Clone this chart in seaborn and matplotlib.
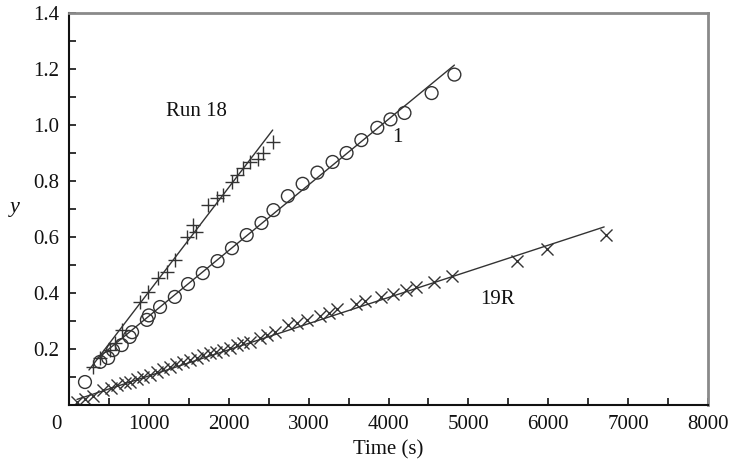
import numpy as np
import pandas as pd
import seaborn as sns
import matplotlib.pyplot as plt
import matplotlib.transforms as mtransforms

# Run 18 (+ markers)
run18_t = [300, 390, 510, 575, 660, 890, 990, 1110, 1225, 1325, 1475, 1550, 1590,
           1740, 1850, 1925, 2040, 2100, 2175, 2260, 2360, 2425, 2550]
run18_y = [0.136, 0.168, 0.196, 0.221, 0.268, 0.368, 0.404, 0.454, 0.475, 0.518, 0.600,
           0.643, 0.618, 0.714, 0.740, 0.750, 0.796, 0.820, 0.846, 0.868, 0.880, 0.900, 0.940]
run18_fit_t = [250, 2550]
run18_fit_y = [0.125, 0.982]

# Run 1 (circles)
run1_t = [200, 390, 490, 550, 660, 760, 790, 975, 1000, 1140, 1325, 1490, 1675, 1860,
          2040, 2225, 2410, 2560, 2740, 2925, 3110, 3300, 3475, 3660, 3860, 4025, 4200,
          4540, 4825]
run1_y = [0.082, 0.154, 0.168, 0.196, 0.214, 0.243, 0.260, 0.304, 0.320, 0.350, 0.386,
          0.432, 0.471, 0.514, 0.560, 0.607, 0.650, 0.696, 0.746, 0.790, 0.830, 0.868,
          0.900, 0.946, 0.990, 1.020, 1.043, 1.114, 1.180]
run1_fit_t = [350, 4825]
run1_fit_y = [0.165, 1.214]

# Run 19R (x markers)
run19_t = [100, 200, 300, 425, 520, 600, 700, 760, 850, 925, 1010, 1100, 1180, 1260,
           1340, 1425, 1510, 1600, 1680, 1760, 1840, 1925, 2010, 2100, 2180, 2260, 2390,
           2480, 2575, 2740, 2850, 2975, 3140, 3260, 3360, 3590, 3700, 3900, 4060, 4225,
           4350, 4575, 4800, 5610, 5990, 6725]
run19_y = [0.011, 0.022, 0.032, 0.054, 0.062, 0.070, 0.078, 0.083, 0.092, 0.100, 0.108,
           0.118, 0.127, 0.136, 0.145, 0.154, 0.160, 0.168, 0.177, 0.186, 0.190, 0.196,
           0.205, 0.214, 0.220, 0.225, 0.240, 0.250, 0.260, 0.284, 0.293, 0.305, 0.318,
           0.330, 0.342, 0.360, 0.372, 0.386, 0.398, 0.410, 0.420, 0.440, 0.462, 0.515,
           0.558, 0.607]
run19_fit_t = [100, 6700]
run19_fit_y = [0.020, 0.636]

# annotations
run_labels = ['Run 18', '1', '19R']
label_t = [1600, 4110, 5360]
label_y = [1.05, 0.954, 0.378]

x_ticks = [0, 1000, 2000, 3000, 4000, 5000, 6000, 7000, 8000]
y_ticks = [0.2, 0.4, 0.6, 0.8, 1.0, 1.2, 1.4]

sns.set_style('ticks')
plt.rcParams['font.family'] = ['Liberation Serif', 'DejaVu Serif']

pts = pd.concat([
    pd.DataFrame({'t': run18_t, 'y': run18_y, 'run': '18'}),
    pd.DataFrame({'t': run1_t, 'y': run1_y, 'run': '1'}),
    pd.DataFrame({'t': run19_t, 'y': run19_y, 'run': '19R'}),
])
fits = pd.concat([
    pd.DataFrame({'t': run18_fit_t, 'y': run18_fit_y, 'run': '18'}),
    pd.DataFrame({'t': run1_fit_t, 'y': run1_fit_y, 'run': '1'}),
    pd.DataFrame({'t': run19_fit_t, 'y': run19_fit_y, 'run': '19R'}),
])

ink = '#333333'
fig = plt.figure(figsize=(7.32, 4.63), dpi=100)
ax = fig.add_axes([69 / 732, 1 - 405 / 463, 639 / 732, 392 / 463])

sns.lineplot(data=fits, x='t', y='y', units='run', estimator=None, color=ink,
             linewidth=1.0, ax=ax, legend=False)

markers = {'18': '+', '1': 'o', '19R': 'x'}
sizes = {'18': 90, '1': 85, '19R': 75}
for run, m in markers.items():
    sub = pts[pts['run'] == run]
    if m == 'o':
        sns.scatterplot(data=sub, x='t', y='y', marker='o', s=sizes[run],
                        facecolor='none', edgecolor=ink, linewidth=1.0, ax=ax, legend=False)
    else:
        sns.scatterplot(data=sub, x='t', y='y', marker=m, s=sizes[run],
                        color=ink, linewidth=1.0, ax=ax, legend=False)

for txt, tx, ty in zip(run_labels, label_t, label_y):
    ax.text(tx, ty, txt, fontsize=15, ha='center', va='center', color='#111111')

ax.set_xlim(0, 8000)
ax.set_ylim(0, 1.4)
ax.set_xticks(x_ticks)
ax.set_xticks(np.arange(500, 8000, 1000), minor=True)
ax.set_yticks(y_ticks)
ax.set_yticks(np.arange(0.1, 1.4, 0.2), minor=True)
ax.tick_params(which='both', direction='in', length=5, width=1.2, labelsize=15,
               colors='#111111', pad=7)

# the origin label sits a little to the left of the spine in the original
off = mtransforms.ScaledTranslation(-13 / 100, 0, fig.dpi_scale_trans)
lbl0 = ax.get_xticklabels()[0]
lbl0.set_transform(lbl0.get_transform() + off)

ax.set_xlabel('Time (s)', fontsize=15, labelpad=5, color='#111111')
ax.set_ylabel('y', fontsize=16, style='italic', rotation=0, color='#111111')
ax.yaxis.set_label_coords(-0.085, 0.48)

for side in ['left', 'bottom']:
    ax.spines[side].set_color('#111111')
    ax.spines[side].set_linewidth(1.5)
for side in ['top', 'right']:
    ax.spines[side].set_visible(True)
    ax.spines[side].set_color('#8a8a8a')
    ax.spines[side].set_linewidth(2.0)

fig.savefig('out.png', dpi=100)
